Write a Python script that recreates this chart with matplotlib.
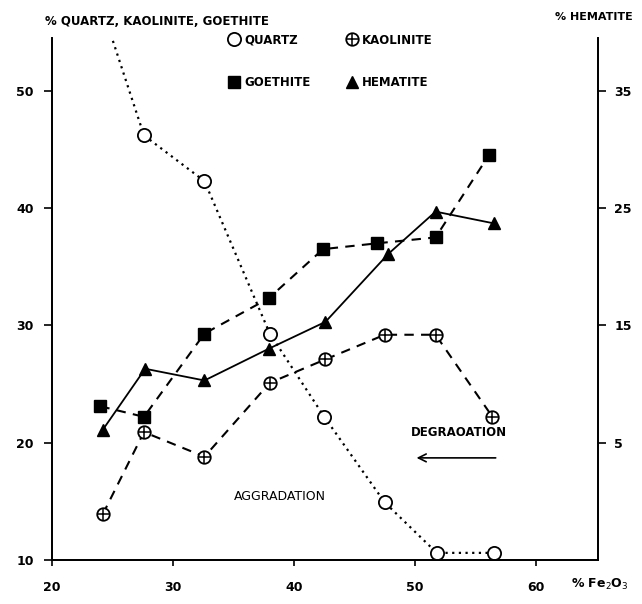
import matplotlib
matplotlib.use("Agg")
from matplotlib import pyplot as plt
from matplotlib.lines import Line2D

plt.rcParams['font.family'] = ['DejaVu Sans']

# % Fe2O3 of each sample, per series
quartz_x = [24.0, 27.6, 32.6, 38.0, 42.5, 47.5, 51.8, 56.5]
quartz_y = [57.5, 46.2, 42.3, 29.3, 22.2, 14.9, 10.6, 10.6]

kaolinite_x = [24.2, 27.6, 32.6, 38.0, 42.6, 47.5, 51.7, 56.4]
kaolinite_y = [13.9, 20.9, 18.8, 25.1, 27.1, 29.2, 29.2, 22.2]

goethite_x = [24.0, 27.6, 32.6, 37.9, 42.4, 46.9, 51.7, 56.1]
goethite_y = [23.1, 22.2, 29.3, 32.3, 36.5, 37.0, 37.5, 44.5]

# hematite uses the right axis
hematite_x = [24.2, 27.7, 32.6, 37.9, 42.6, 47.8, 51.7, 56.5]
hematite_y = [6.1, 11.3, 10.3, 13.0, 15.3, 21.1, 24.7, 23.7]

x_ticks = [20, 30, 40, 50, 60]
left_ticks = [10, 20, 30, 40, 50]
right_ticks = [5, 15, 25, 35]

fig = plt.figure(figsize=(6.42, 6.04), dpi=100)
ax = fig.add_axes([0.081, 0.073, 0.85, 0.864])
ax2 = ax.twinx()

dash = (0, (4.5, 3.5))

ax.plot(quartz_x, quartz_y, color='black', lw=1.6, linestyle=(0, (1, 2)),
        marker='o', ms=9.5, mfc='white', mec='black', mew=1.3, zorder=4)
ax.plot(kaolinite_x, kaolinite_y, color='black', lw=1.5, linestyle=dash,
        marker='o', ms=9, mfc='white', mec='black', mew=1.3, zorder=4)
ax.plot(kaolinite_x, kaolinite_y, linestyle='none', marker='+', ms=9,
        mec='black', mew=1.1, zorder=5)
ax.plot(goethite_x, goethite_y, color='black', lw=1.5, linestyle=dash,
        marker='s', ms=9, mfc='black', mec='black', zorder=4)
ax2.plot(hematite_x, hematite_y, color='black', lw=1.3, linestyle='-',
         marker='^', ms=9, mfc='black', mec='black', zorder=4)

ax.set_xlim(20, 65.1)
ax.set_ylim(10, 54.5)
# right axis: hematite = left - 15
ax2.set_ylim(-5, 39.5)

for a in (ax, ax2):
    a.spines['top'].set_visible(False)
    a.spines['left'].set_linewidth(1.3)
    a.spines['right'].set_linewidth(1.3)
    a.spines['bottom'].set_linewidth(1.3)

ax.set_xticks(x_ticks)
ax.set_yticks(left_ticks)
ax2.set_yticks(right_ticks)
ax.tick_params(axis='x', direction='out', length=4, width=1.2, pad=11, labelsize=9)
ax.tick_params(axis='y', direction='out', length=6, width=1.2, pad=7, labelsize=9)
ax2.tick_params(axis='y', direction='out', length=6, width=1.2, pad=6, labelsize=9)
for lab in ax.get_xticklabels() + ax.get_yticklabels() + ax2.get_yticklabels():
    lab.set_fontweight('bold')

fig.text(0.07, 0.965, '% QUARTZ, KAOLINITE, GOETHITE', fontsize=8.5,
         fontweight='bold', ha='left', va='center')
fig.text(0.865, 0.972, '% HEMATITE', fontsize=8, fontweight='bold',
         ha='left', va='center')
fig.text(0.89, 0.032, '% Fe$_2$O$_3$', fontsize=9, fontweight='bold',
         ha='left', va='center')

kao_circle = Line2D([], [], linestyle='none', marker='o', ms=9, mfc='white',
                    mec='black', mew=1.3)
kao_plus = Line2D([], [], linestyle='none', marker='+', ms=9, mec='black', mew=1.1)
handles = [
    Line2D([], [], linestyle='none', marker='o', ms=9.5, mfc='white', mec='black', mew=1.3),
    Line2D([], [], linestyle='none', marker='s', ms=8, mfc='black', mec='black'),
    (kao_circle, kao_plus),
    Line2D([], [], linestyle='none', marker='^', ms=9, mfc='black', mec='black'),
]
labels = ['QUARTZ', 'GOETHITE', 'KAOLINITE', 'HEMATITE']
leg = fig.legend(handles, labels, ncol=2, frameon=False, loc='upper left',
                 bbox_to_anchor=(0.338, 0.962), handlelength=1.0, handletextpad=0.4,
                 columnspacing=3.0, labelspacing=2.5, prop={'size': 8.5, 'weight': 'bold'})

ax.text(38.8, 15.4, 'AGGRADATION', fontsize=9, ha='center', va='center')
ax.text(53.6, 20.9, 'DEGRAOATION', fontsize=8.5, fontweight='bold',
        ha='center', va='center')
ax.annotate('', xy=(49.9, 18.7), xytext=(56.9, 18.7),
            arrowprops=dict(arrowstyle='->', lw=1.2, color='black',
                            mutation_scale=14))

fig.savefig('out.png', dpi=100)
